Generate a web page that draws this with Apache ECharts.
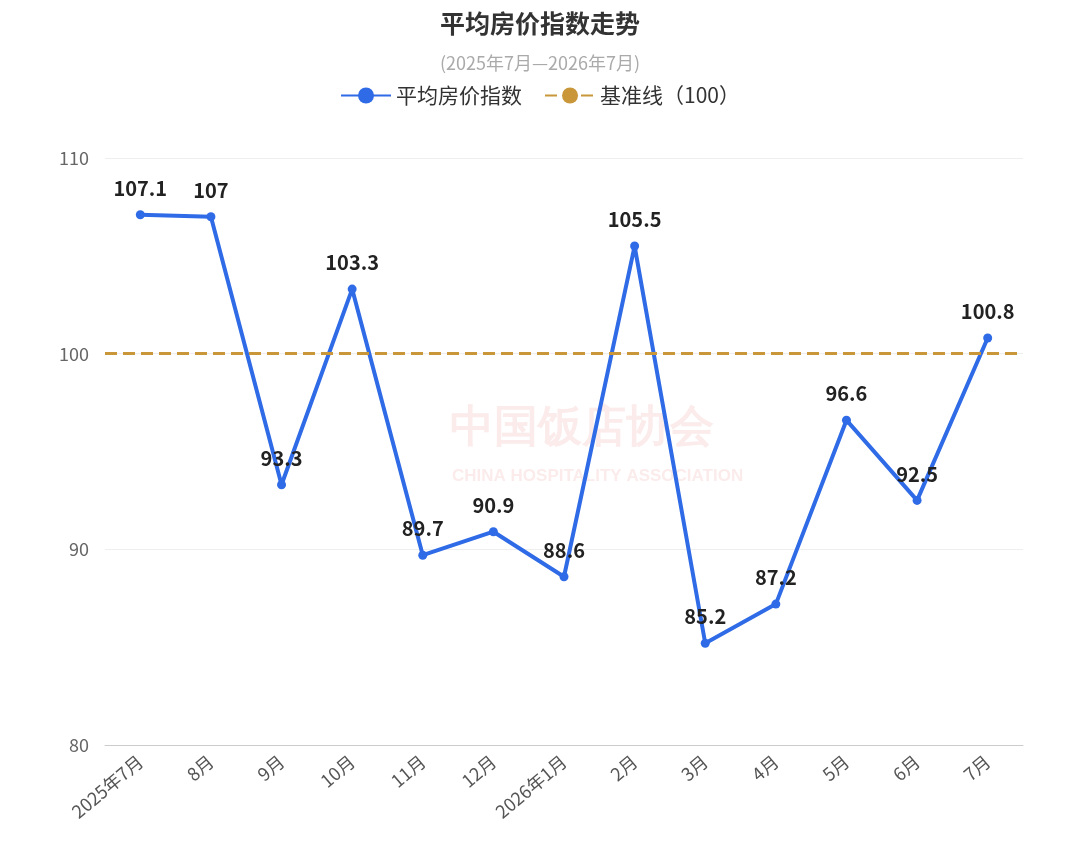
<!DOCTYPE html>
<html><head><meta charset="utf-8">
<script src="https://cdn.jsdelivr.net/npm/echarts@6/dist/echarts.min.js"></script>
<style>html,body{margin:0;padding:0;background:#fff}#c{width:1080px;height:851px}</style>
</head><body><div id="c"></div>
<script>
var months = ['2025年7月','8月','9月','10月','11月','12月','2026年1月','2月','3月','4月','5月','6月','7月'];
var indexValues = [107.1,107,93.3,103.3,89.7,90.9,88.6,105.5,85.2,87.2,96.6,92.5,100.8];
var baseLevel = 100;
var yTicks = {min:80, max:110, interval:10};

var chart = echarts.init(document.getElementById('c'));
var font = '"Noto Sans CJK SC","Noto Sans",sans-serif';
chart.setOption({
  textStyle:{fontFamily:font},
  title:{text:'平均房价指数走势', subtext:'(2025年7月—2026年7月)', left:'center', top:6,
    itemGap:18,
    textStyle:{fontSize:25,fontWeight:'bold',color:'#333',fontFamily:font},
    subtextStyle:{fontSize:18,color:'#aaa',fontFamily:font}},
  legend:{top:80, left:'center', itemWidth:50, itemHeight:20, itemGap:22,
    textStyle:{fontSize:21,color:'#333',fontFamily:font},
    data:['平均房价指数','基准线（100）']},
  graphic:[
    {type:'text', left:450, top:408, style:{text:'中国饭店协会', font:'bold 44px serif', fill:'rgba(230,120,120,0.15)'}},
    {type:'text', left:452, top:468, style:{text:'CHINA HOSPITALITY ASSOCIATION', font:'bold 17px sans-serif', fill:'rgba(230,120,120,0.15)'}}
  ],
  grid:{left:105, right:57, top:158, bottom:106},
  xAxis:{type:'category', data:months, boundaryGap:true,
    axisLine:{lineStyle:{color:'#ccc'}}, axisTick:{show:false},
    axisLabel:{rotate:40, fontSize:18, color:'#555', interval:0, margin:14}},
  yAxis:{type:'value', min:yTicks.min, max:yTicks.max, interval:yTicks.interval,
    axisLabel:{fontSize:18,color:'#666',margin:16},
    splitLine:{lineStyle:{color:'#eee'}}},
  series:[
    {name:'平均房价指数', type:'line', data:indexValues, symbol:'circle', symbolSize:9, z:3,
      itemStyle:{color:'#2f6be6'}, lineStyle:{width:4,color:'#2f6be6'},
      label:{show:true, position:'top', distance:12, fontSize:20, fontWeight:'bold', color:'#222'}},
    {name:'基准线（100）', type:'line', data:[], symbol:'circle', symbolSize:9,
      itemStyle:{color:'#c9973a'}, lineStyle:{width:3,type:[12,6],color:'#c9973a'},
      markLine:{silent:true, symbol:'none', label:{show:false},
        lineStyle:{width:3,type:[12,6],color:'#c9973a'},
        data:[{yAxis:baseLevel}]}}
  ]
});
</script></body></html>
